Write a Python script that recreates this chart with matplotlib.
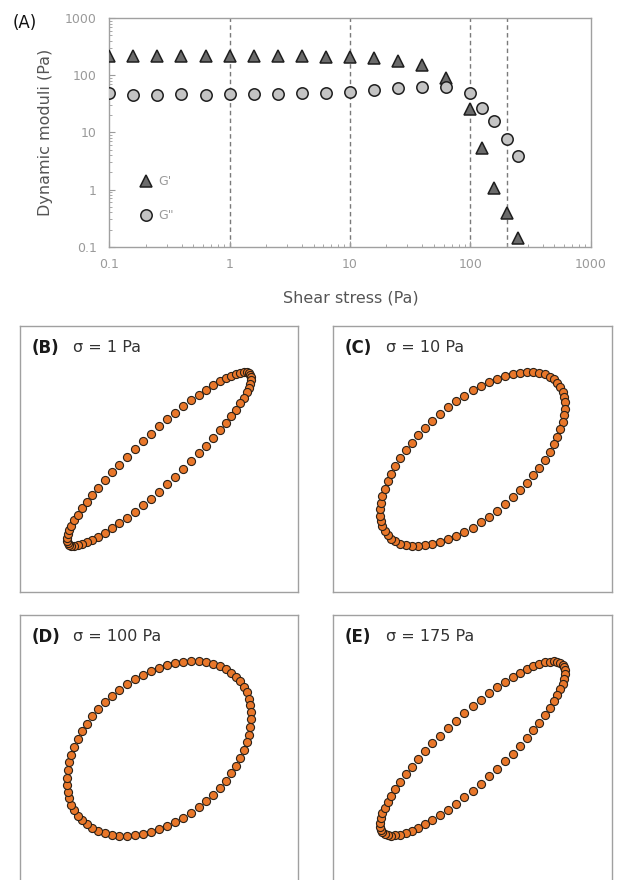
import numpy as np
import matplotlib
matplotlib.use("Agg")
import matplotlib.pyplot as plt
from matplotlib.ticker import LogLocator, NullFormatter

plt.rcParams["font.family"] = ["DejaVu Sans"]

# ---- (A) stress sweep: dynamic moduli ----
shear_stress = [0.1, 0.158, 0.251, 0.398, 0.631, 1.0, 1.58, 2.51, 3.98, 6.31,
                10.0, 15.8, 25.1, 39.8, 63.1, 100.0, 126.0, 158.0, 200.0, 251.0]
g_storage = [220, 220, 220, 220, 219, 219, 218, 217, 216, 212,
             210, 199, 181, 152, 91, 25.8, 5.4, 1.05, 0.385, 0.14]
g_loss = [48.5, 45.0, 44.8, 47.0, 45.5, 46.5, 47.0, 47.0, 48.5, 50.0,
          52.0, 55.5, 59.5, 63.5, 63.5, 48.5, 27.0, 15.8, 7.8, 3.9]
guide_stress = [1, 10, 100, 200]
decades = [0.1, 1, 10, 100, 1000]
decade_labels = ["0.1", "1", "10", "100", "1000"]

# ---- (B)-(E) Lissajous loops: phase lag of the response at each stress ----
loop_tags = ["(B)", "(C)", "(D)", "(E)"]
loop_stress = ["1", "10", "100", "175"]
loop_phase_deg = [22, 52, 68, 29]
points_per_cycle = 70

W, H = 618, 880
fig = plt.figure(figsize=(W / 100, H / 100), dpi=100)


def px_box(left, top, right, bottom):
    return [left / W, 1 - bottom / H, (right - left) / W, (bottom - top) / H]


grey_frame = "#a0a0a0"

axA = fig.add_axes(px_box(109.3, 18.3, 590.7, 246.7))
axA.set_xscale("log")
axA.set_yscale("log")
axA.set_xlim(0.1, 1000)
axA.set_ylim(0.1, 1000)

for xv in guide_stress:
    axA.axvline(xv, color="#7a7a7a", lw=1.0, ls=(0, (3.2, 2.4)), zorder=1)

axA.plot(shear_stress, g_storage, ls="none", marker="^", ms=8.2,
         mfc="#6b6b6b", mec="#1e1e1e", mew=1.1, label="G'", zorder=3)
axA.plot(shear_stress, g_loss, ls="none", marker="o", ms=8.2,
         mfc="#c4c4c4", mec="#1e1e1e", mew=1.1, label='G"', zorder=4)

axA.set_xticks(decades, labels=decade_labels)
axA.set_yticks(decades, labels=decade_labels)
for axis in (axA.xaxis, axA.yaxis):
    axis.set_minor_locator(LogLocator(base=10, subs=np.arange(2, 10)))
    axis.set_minor_formatter(NullFormatter())
axA.tick_params(which="both", direction="in", color="#9a9a9a",
                top=False, right=False)
axA.tick_params(which="major", length=4, width=0.8, labelsize=9,
                labelcolor="#9a9a9a")
axA.tick_params(which="minor", length=2.5, width=0.6)
axA.tick_params(axis="y", which="major", pad=9)
axA.tick_params(axis="x", which="major", pad=8)
for sp in axA.spines.values():
    sp.set_color(grey_frame)
    sp.set_linewidth(1.0)

leg = axA.legend(loc="center left", bbox_to_anchor=(0.0627, 0.21),
                 frameon=False, fontsize=9, handlelength=1.0,
                 handletextpad=0.5, labelspacing=1.7, borderpad=0,
                 borderaxespad=0, numpoints=1)
for t in leg.get_texts():
    t.set_color("#9a9a9a")

axA.text(-0.132, 0.5, "Dynamic moduli (Pa)", rotation=90,
         transform=axA.transAxes, ha="center", va="center",
         fontsize=11.5, color="#555555")
axA.text(0.502, -0.2227, "Shear stress (Pa)", transform=axA.transAxes,
         ha="center", va="center", fontsize=11.5, color="#555555")
fig.text(13 / W, 1 - 22.5 / H, "(A)", ha="left", va="center",
         fontsize=12, color="#111111")

# ---- loop panels ----
panel_boxes = [(20, 326, 298, 592), (333, 326, 612, 592),
               (20, 615, 298, 882), (333, 615, 612, 882)]
theta = np.linspace(0, 2 * np.pi, points_per_cycle, endpoint=False)

for box, tag, sig, phase in zip(panel_boxes, loop_tags, loop_stress,
                                loop_phase_deg):
    ax = fig.add_axes(px_box(*box))
    strain = np.sin(theta)
    stress = np.sin(theta + np.deg2rad(phase))
    ax.scatter(strain, stress, s=34, c="#E9772A", edgecolors="#2b2118",
               linewidths=0.8, zorder=3)
    ax.set_xlim(-1.51, 1.51)
    ax.set_ylim(-1.53, 1.53)
    ax.set_xticks([])
    ax.set_yticks([])
    for sp in ax.spines.values():
        sp.set_color(grey_frame)
        sp.set_linewidth(1.0)
    ht = box[3] - box[1]
    ytxt = 1 - 21.5 / ht
    ax.text(12 / (box[2] - box[0]), ytxt, tag, transform=ax.transAxes,
            ha="left", va="center", fontsize=12, fontweight="bold",
            color="#1a1a1a")
    ax.text(53 / (box[2] - box[0]), ytxt, f"σ = {sig} Pa",
            transform=ax.transAxes, ha="left", va="center",
            fontsize=11.5, color="#333333")

fig.savefig("out.png", dpi=100)
